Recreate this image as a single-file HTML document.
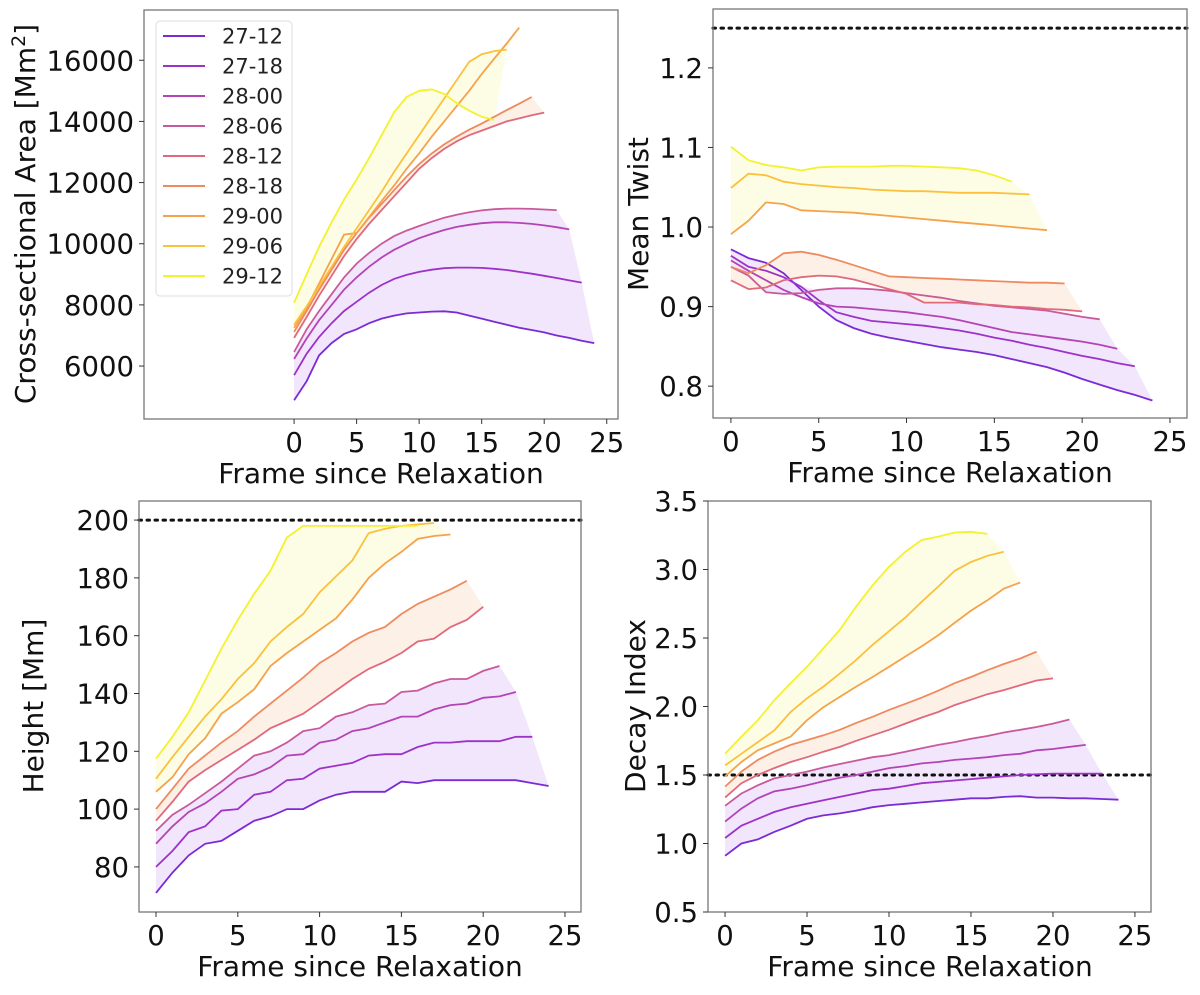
<!DOCTYPE html>
<html><head><meta charset="utf-8"><style>
html,body{margin:0;padding:0;background:#fff;}
svg{display:block;font-family:"DejaVu Sans","Liberation Sans",sans-serif;}
</style></head><body>
<svg id="fig" width="1200" height="995" viewBox="0 0 1200 995"></svg>
<script>
const seriesNames=['27-12','27-18','28-00','28-06','28-12','28-18','29-00','29-06','29-12'];
const seriesColors=['#7b2bd4','#9d32c8','#b444b4','#c95a9a','#e0697c','#ef8a5e','#f6a24a','#fbc13c','#f3f22e'];
// Cross-sectional area
const area=[
[4880,5500,6350,6750,7050,7200,7400,7550,7650,7720,7750,7780,7790,7750,7650,7550,7450,7350,7250,7180,7100,7000,6920,6830,6750],
[5700,6400,6950,7400,7800,8100,8400,8650,8850,8980,9080,9150,9200,9220,9220,9210,9180,9140,9080,9020,8950,8880,8800,8730],
[6230,6900,7500,8000,8500,8900,9250,9550,9800,10000,10180,10320,10450,10550,10620,10670,10700,10700,10680,10650,10600,10540,10470],
[6460,7200,7800,8350,8900,9350,9700,10000,10250,10430,10580,10720,10850,10950,11030,11090,11130,11150,11150,11140,11120,11100],
[6920,7600,8300,8950,9600,10150,10650,11100,11550,12000,12450,12800,13100,13350,13550,13700,13850,14000,14100,14200,14290],
[7120,7800,8500,9150,9800,10350,10850,11300,11750,12200,12600,12950,13250,13500,13730,13930,14150,14370,14580,14800],
[7250,7900,8700,9500,10300,10350,10870,11400,11900,12450,12950,13500,14000,14500,15000,15550,16050,16550,17070],
[7350,7950,8600,9250,9900,10500,11100,11700,12350,12950,13550,14150,14750,15350,15950,16200,16300,16350],
[8070,9000,9900,10700,11450,12100,12800,13550,14300,14800,15000,15050,14900,14600,14350,14150,14050]];
// Mean twist
const twist=[
[0.972,0.961,0.955,0.942,0.921,0.900,0.883,0.873,0.866,0.861,0.857,0.853,0.849,0.846,0.843,0.839,0.834,0.829,0.824,0.817,0.809,0.802,0.795,0.789,0.782],
[0.964,0.950,0.945,0.937,0.925,0.908,0.893,0.887,0.882,0.880,0.878,0.876,0.873,0.870,0.866,0.861,0.857,0.852,0.848,0.843,0.838,0.834,0.829,0.825],
[0.958,0.945,0.933,0.921,0.912,0.904,0.900,0.899,0.897,0.895,0.893,0.890,0.887,0.883,0.878,0.873,0.868,0.865,0.862,0.859,0.856,0.852,0.847],
[0.950,0.939,0.918,0.916,0.917,0.921,0.923,0.923,0.922,0.920,0.917,0.914,0.911,0.907,0.904,0.901,0.899,0.897,0.895,0.891,0.887,0.884],
[0.933,0.922,0.924,0.933,0.937,0.939,0.938,0.934,0.928,0.922,0.916,0.905,0.905,0.905,0.903,0.902,0.900,0.899,0.897,0.896,0.894],
[0.950,0.942,0.952,0.967,0.969,0.965,0.959,0.952,0.945,0.938,0.937,0.936,0.935,0.934,0.933,0.932,0.931,0.930,0.930,0.929],
[0.991,1.008,1.031,1.029,1.021,1.020,1.019,1.018,1.016,1.014,1.012,1.010,1.008,1.006,1.004,1.002,1.000,0.998,0.996],
[1.049,1.067,1.065,1.057,1.054,1.052,1.050,1.049,1.047,1.046,1.045,1.045,1.044,1.043,1.043,1.043,1.042,1.041],
[1.101,1.084,1.078,1.075,1.071,1.075,1.076,1.076,1.076,1.077,1.077,1.076,1.075,1.074,1.071,1.065,1.057]];
// Height
const height=[
[71,78,84,88,89,92.5,96,97.5,100,100,103,105,106,106,106,109.5,109,110,110,110,110,110,110,109,108],
[80,85.5,92,94,99.5,100,105,106,110,110.5,114,115,116,118.5,119,119,121.5,123,123,123.5,123.5,123.5,125,125],
[88,94,99,102,106,110.5,112,114.5,118.5,119,123,124,127,128,130,132,132,134.5,136,136.5,138.5,139,140.5],
[92.5,98,101.5,105.5,109.5,114,118.5,120,123,127,128,132,133.5,136,136.5,140.5,141,143.5,145,145,147.8,149.5],
[96,102.5,109.5,113.5,117,120.5,124,128,130.5,133,137,141,145,148.5,151,154,158,159,163,165.5,170],
[100,107,114,118.5,123,127,132,136.5,141,145.5,150.5,154,158,161,163,167.5,171,173.5,176,179],
[106,111,119,124.5,133,137,141.5,149.5,154,158,162,166,172.5,180,185,189,193.5,194.5,195],
[110.5,118,125,132,138,145,150.5,158,163,167.5,175,180.5,186,195.5,197,198,198.5,199],
[117.5,125,133.5,144.5,155.5,165.5,174.5,182.5,194,198,198,198,198,198,198,198,198]];
// Decay index
const decay=[
[0.91,1.0,1.03,1.085,1.13,1.18,1.205,1.22,1.24,1.265,1.28,1.29,1.30,1.31,1.32,1.33,1.33,1.34,1.345,1.335,1.335,1.33,1.33,1.325,1.32],
[1.04,1.13,1.18,1.23,1.265,1.29,1.315,1.34,1.365,1.39,1.40,1.42,1.44,1.45,1.46,1.47,1.48,1.49,1.50,1.505,1.51,1.51,1.51,1.51],
[1.16,1.255,1.33,1.38,1.40,1.425,1.455,1.48,1.50,1.525,1.55,1.565,1.585,1.595,1.61,1.62,1.63,1.645,1.655,1.68,1.69,1.705,1.72],
[1.275,1.365,1.425,1.475,1.50,1.525,1.555,1.58,1.605,1.63,1.645,1.67,1.695,1.72,1.74,1.765,1.785,1.81,1.83,1.85,1.875,1.905],
[1.335,1.44,1.50,1.55,1.595,1.63,1.67,1.705,1.75,1.79,1.83,1.875,1.92,1.96,2.01,2.05,2.09,2.12,2.155,2.19,2.205],
[1.415,1.525,1.61,1.67,1.72,1.755,1.79,1.83,1.88,1.925,1.975,2.02,2.065,2.115,2.17,2.215,2.265,2.31,2.35,2.40],
[1.49,1.595,1.68,1.73,1.78,1.90,1.995,2.07,2.145,2.215,2.29,2.365,2.44,2.52,2.61,2.70,2.775,2.86,2.905],
[1.57,1.655,1.74,1.825,1.96,2.06,2.145,2.24,2.34,2.45,2.55,2.65,2.765,2.875,2.99,3.055,3.10,3.13],
[1.655,1.78,1.90,2.045,2.17,2.29,2.425,2.56,2.73,2.885,3.02,3.13,3.215,3.24,3.27,3.275,3.26]];
const xTicks=[0,5,10,15,20,25];
const areaTicks=[6000,8000,10000,12000,14000,16000];
const twistTicks=[0.8,0.9,1.0,1.1,1.2];
const heightTicks=[80,100,120,140,160,180,200];
const decayTicks=[0.5,1.0,1.5,2.0,2.5,3.0,3.5];
const groups=[[0,1,2,3],[4,5],[6,7,8]];
const groupFill=['#f2e6fc','#fdf0e6','#fcfde4'];

const NS='http://www.w3.org/2000/svg';
const svg=document.getElementById('fig');
function mk(tag,attrs,parent){const e=document.createElementNS(NS,tag);for(const k in attrs)e.setAttribute(k,attrs[k]);(parent||svg).appendChild(e);return e;}

function panel(cfg){
  const g=mk('g',{});
  
  
  const {L,T,R,B,x0,x1,y0,y1}=cfg;
  const sx=v=>L+(v-x0)/(x1-x0)*(R-L);
  const sy=v=>B-(v-y0)/(y1-y0)*(B-T);
  groups.forEach((grp,gi)=>{
    const n=Math.max(...grp.map(s=>cfg.data[s].length));
    const up=[],lo=[];
    for(let i=0;i<n;i++){
      const vals=grp.filter(s=>i<cfg.data[s].length).map(s=>cfg.data[s][i]);
      up.push([sx(i),sy(Math.max(...vals))]);lo.push([sx(i),sy(Math.min(...vals))]);
    }
    const pts=up.concat(lo.reverse()).map(p=>p[0].toFixed(1)+','+p[1].toFixed(1)).join(' ');
    const band=mk('polygon',{points:pts,fill:groupFill[gi],stroke:'none'},g);
    
    
  });
  if(cfg.ref!==undefined){
    const r=mk('line',{x1:L,x2:R,y1:sy(cfg.ref),y2:sy(cfg.ref),stroke:'#111','stroke-width':3,'stroke-dasharray':'2.5,5.5','stroke-linecap':'round'},g);
    
    
  }
  cfg.data.forEach((arr,s)=>{
    const d=arr.map((v,i)=>(i?'L':'M')+sx(i).toFixed(1)+','+sy(v).toFixed(1)).join('');
    const p=mk('path',{d:d,fill:'none',stroke:seriesColors[s],'stroke-width':1.8},g);
    
    
  });
  const fr=mk('rect',{x:L,y:T,width:R-L,height:B-T,fill:'none',stroke:'#777','stroke-width':1.3},g);
  
  
  xTicks.forEach(t=>{
    mk('line',{x1:sx(t),x2:sx(t),y1:B,y2:B+5,stroke:'#333','stroke-width':1},g);
    const tx=mk('text',{x:sx(t),y:B+33,'font-size':27.5,'text-anchor':'middle',fill:'#111'},g);
    tx.textContent=t;
    
    
  });
  cfg.yTicks.forEach(t=>{
    mk('line',{x1:L-5,x2:L,y1:sy(t),y2:sy(t),stroke:'#333','stroke-width':1},g);
    const tx=mk('text',{x:L-10,y:sy(t)+10,'font-size':27.5,'text-anchor':'end',fill:'#111'},g);
    tx.textContent=cfg.fmt(t);
    
    
  });
  const xt=mk('text',{x:cfg.xtX,y:B+64,'font-size':28,'text-anchor':'middle',fill:'#111'},g);
  xt.textContent='Frame since Relaxation';
  
  
  const yt=mk('text',{x:0,y:0,'font-size':28,'text-anchor':'middle',fill:'#111',transform:`translate(${cfg.ytX},${cfg.ytY}) rotate(-90)`},g);
  yt.innerHTML=cfg.ytitle;
  
  
}

panel({name:'area-panel',L:144,T:10,R:618,B:419,x0:-12,x1:25.9,y0:4268,y1:17644,data:area,yTicks:areaTicks,fmt:t=>String(t),
  ytitle:'Cross-sectional Area [Mm<tspan dy="-10" font-size="19">2</tspan><tspan dy="10">]</tspan>',ytX:35,ytY:214,xtX:381});
panel({name:'twist-panel',L:713,T:9,R:1187,B:418,x0:-1.02,x1:25.97,y0:0.760,y1:1.274,data:twist,yTicks:twistTicks,ref:1.25,fmt:t=>t.toFixed(1),
  ytitle:'Mean Twist',ytX:648,ytY:214,xtX:950});
panel({name:'height-panel',L:139,T:501,R:581,B:912,x0:-1.04,x1:25.98,y0:64.4,y1:206.6,data:height,yTicks:heightTicks,ref:200,fmt:t=>String(t),
  ytitle:'Height [Mm]',ytX:43,ytY:706,xtX:360});
panel({name:'decay-panel',L:708,T:501,R:1151,B:912,x0:-1.04,x1:25.98,y0:0.5,y1:3.5,data:decay,yTicks:decayTicks,ref:1.5,fmt:t=>t.toFixed(1),
  ytitle:'Decay Index',ytX:645,ytY:706,xtX:930});

const lg=mk('g',{});


const lb=mk('rect',{x:156,y:21,width:136,height:275,rx:4,fill:'#fff','fill-opacity':0.85,stroke:'#ddd','stroke-width':1},lg);


seriesNames.forEach((n,i)=>{
  const y=36+i*30;
  const e=mk('g',{},lg);
  
  
  mk('line',{x1:163,x2:205,y1:y,y2:y,stroke:seriesColors[i],'stroke-width':2},e);
  const t=mk('text',{x:222,y:y+7.5,'font-size':21,fill:'#222'},e);
  t.textContent=n;
});
</script>
</body></html>
